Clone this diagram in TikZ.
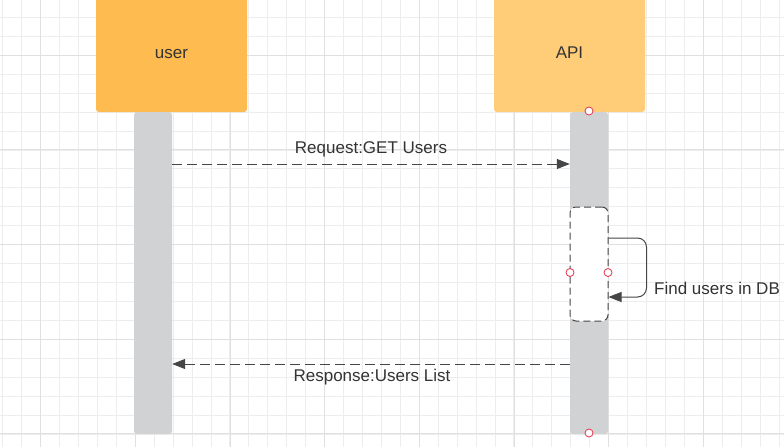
\documentclass[tikz,border=0pt]{standalone}
\usepackage{fontspec}
\setmainfont{Liberation Sans}
\usetikzlibrary{arrows.meta}
\definecolor{gridminor}{RGB}{237,237,237}
\definecolor{gridmajor}{RGB}{224,224,224}
\definecolor{userc}{RGB}{253,187,80}
\definecolor{apic}{RGB}{255,204,120}
\definecolor{lifec}{RGB}{209,210,212}
\definecolor{inkc}{RGB}{51,51,51}
\definecolor{linec}{RGB}{70,70,70}
\definecolor{portc}{RGB}{230,70,90}
\tikzset{
  actorbox/.style={rounded corners=3pt, minimum width=151pt, minimum height=116pt, inner sep=0pt},
  lifebox/.style={fill=lifec, rounded corners=3pt, minimum width=38pt, minimum height=322pt, inner sep=0pt},
  actbox/.style={fill=white, draw=linec, line width=1pt, dash pattern=on 7pt off 4pt, rounded corners=6pt, minimum width=38pt, minimum height=114pt, inner sep=0pt},
  portdot/.style={circle, draw=portc, fill=white, line width=0.9pt, minimum size=8pt, inner sep=0pt},
  msg/.style={draw=linec, line width=1pt, dash pattern=on 10pt off 5pt, -{Triangle[length=13pt,width=10pt]}},
  selfmsg/.style={draw=linec, line width=1pt, rounded corners=9pt, -{Triangle[length=13pt,width=10pt]}},
  lbl/.style={text=inkc, font=\fontsize{17}{20}\selectfont, inner sep=0pt}
}
\begin{document}
\begin{tikzpicture}[x=1pt,y=-1pt]
\useasboundingbox (0,0) rectangle (784,447);
\fill[white] (0,0) rectangle (784,447);
\begin{scope}
\clip (0,0) rectangle (784,447);
\foreach \i in {0,...,41} {\draw[gridminor, line width=1pt] ({2.8+18.933*\i},0) -- ++(0,447);}
\foreach \i in {1,...,24} {\draw[gridminor, line width=1pt] (0,{-1.4+18.933*\i}) -- ++(784,0);}
\foreach \i in {0,...,7} {\draw[gridmajor, line width=1pt] ({40.7+94.667*\i},0) -- ++(0,447);}
\foreach \i in {0,...,4} {\draw[gridmajor, line width=1pt] (0,{55.3+94.667*\i}) -- ++(784,0);}

\node[actorbox, fill=userc] (user) at (171.5,54) {};
\node[lbl] (usert) at (171.5,54.5) {user};
\node[actorbox, fill=apic] (api) at (569.5,54) {};
\node[lbl] (apit) at (569.5,53) {API};
\end{scope}

\node[lifebox] (ul) at (153,273) {};
\node[lifebox] (al) at (589,273) {};
\node[actbox] (act) at (589,264) {};

\node[portdot] (p1) at (589,111) {};
\node[portdot] (p2) at (589,433) {};
\node[portdot] (p3) at (570,272.5) {};
\node[portdot] (p4) at (608,272.5) {};

\coordinate (reqs) at (ul.east |- 0,164);
\coordinate (reqe) at (al.west |- 0,164);
\draw[msg] (reqs) -- (reqe);
\node[lbl] (reql) at (371,149.5) {Request:GET Users};

\coordinate (selfs) at (act.east |- 0,238);
\coordinate (selfe) at (act.east |- 0,297);
\draw[selfmsg] (selfs) -- ++(38,0) |- (selfe);
\node[lbl, anchor=west] (selfl) at (654,288) {Find users in DB};

\coordinate (ress) at (al.west |- 0,364);
\coordinate (rese) at (ul.east |- 0,364);
\draw[msg] (ress) -- (rese);
\node[lbl] (resl) at (372,377.5) {Response:Users List};
\end{tikzpicture}
\end{document}
